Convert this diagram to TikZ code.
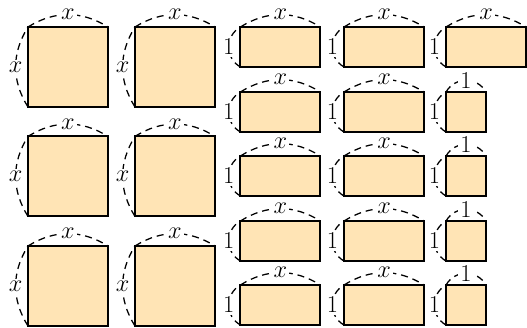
\documentclass[tikz,border=0pt]{standalone}
\usepackage{amsmath}
\usepackage{amssymb}
\usepackage{tikz}

\definecolor{tilefill}{RGB}{255,228,181}
\tikzset{
  tile/.style={draw,line width=1.4pt,fill=tilefill,anchor=north west,inner sep=0pt,outer sep=0pt},
  longside/.style={line width=0.9pt,dash pattern=on 5pt off 3.5pt,bend left=32},
  unitside/.style={line width=0.9pt,dash pattern=on 5pt off 3.5pt,bend left=60,looseness=1.15},
  sidelabel/.style={fill=white,inner sep=1.5pt,font=\fontsize{16}{19}\selectfont}
}

\begin{document}
\begin{tikzpicture}
	\useasboundingbox (0,0) rectangle (13.175,-8.175);
	% x by x squares
	\foreach \c/\xx in {1/0.7,2/3.375}
	\foreach \r/\yy in {1/-0.675,2/-3.41,3/-6.15} {
		\node[tile,minimum width=2cm,minimum height=2cm] (sq\c\r) at (\xx,\yy) {};
		\draw[longside] (sq\c\r.north west) to node[sidelabel] {$x$} (sq\c\r.north east);
		\draw[longside] (sq\c\r.south west) to node[sidelabel] {$x$} (sq\c\r.north west);
	}
	% x by 1 strips
	\foreach \c/\xx in {1/6.01,2/8.6}
	\foreach \r/\yy in {1/-0.675,2/-2.3,3/-3.9,4/-5.525,5/-7.125} {
		\node[tile,minimum width=2cm,minimum height=1cm] (st\c\r) at (\xx,\yy) {};
		\draw[longside] (st\c\r.north west) to node[sidelabel] {$x$} (st\c\r.north east);
		\draw[unitside] (st\c\r.south west) to node[sidelabel] {$1$} (st\c\r.north west);
	}
	\node[tile,minimum width=2cm,minimum height=1cm] (st31) at (11.15,-0.675) {};
	\draw[longside] (st31.north west) to node[sidelabel] {$x$} (st31.north east);
	\draw[unitside] (st31.south west) to node[sidelabel] {$1$} (st31.north west);
	% unit squares
	\foreach \r/\yy in {2/-2.3,3/-3.9,4/-5.525,5/-7.125} {
		\node[tile,minimum width=1cm,minimum height=1cm] (un\r) at (11.15,\yy) {};
		\draw[unitside] (un\r.north west) to node[sidelabel] {$1$} (un\r.north east);
		\draw[unitside] (un\r.south west) to node[sidelabel] {$1$} (un\r.north west);
	}
\end{tikzpicture}
\end{document}
